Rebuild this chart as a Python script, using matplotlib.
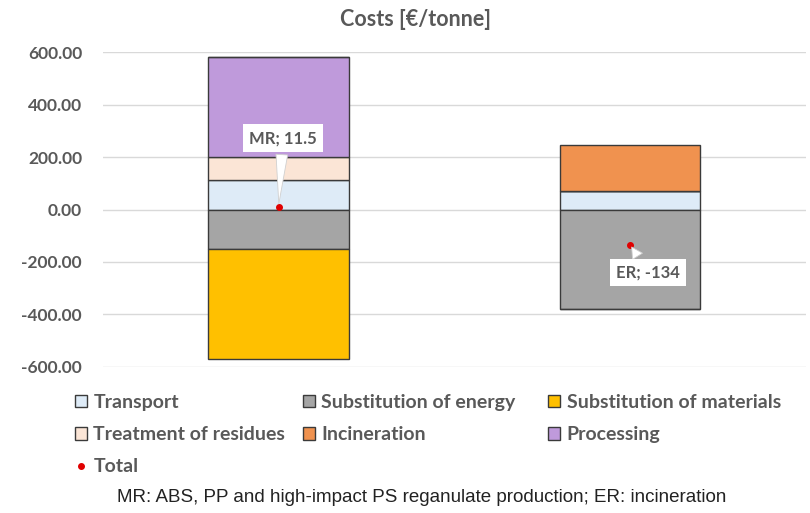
import matplotlib.pyplot as plt
from matplotlib.patches import Patch
from matplotlib.lines import Line2D

# cost components per scenario [€/tonne]
categories = ['MR', 'ER']
transport = [112, 70]
treatment = [87, 0]
processing = [382.5, 0]
incineration = [0, 175]
energy = [-149, -379]
materials = [-421, 0]
totals = [11.5, -134]

yticks = [-600, -400, -200, 0, 200, 400, 600]

colors = {
    'Transport': '#DEEBF7',
    'Substitution of energy': '#A5A5A5',
    'Substitution of materials': '#FFC000',
    'Treatment of residues': '#FBE5D6',
    'Incineration': '#F0924F',
    'Processing': '#BF9ADB',
}

plt.rcParams['font.family'] = ['Lato', 'DejaVu Sans']
grey = '#595959'
edge = '#3a3a3a'

fig = plt.figure(figsize=(8.1, 5.13), dpi=100)
ax = fig.add_axes([0.127, 0.285, 0.868, 0.613])

x = range(len(categories))
w = 0.4

# positive part of the stack
pos = [('Transport', transport), ('Treatment of residues', treatment),
       ('Processing', processing), ('Incineration', incineration)]
base = [0.0] * len(categories)
for name, vals in pos:
    ax.bar(x, vals, w, bottom=base, color=colors[name], edgecolor=edge, linewidth=1, zorder=2)
    base = [b + v for b, v in zip(base, vals)]

# negative part of the stack
neg = [('Substitution of energy', energy), ('Substitution of materials', materials)]
base = [0.0] * len(categories)
for name, vals in neg:
    ax.bar(x, vals, w, bottom=base, color=colors[name], edgecolor=edge, linewidth=1, zorder=2)
    base = [b + v for b, v in zip(base, vals)]

ax.plot(x, totals, 'o', color='#E00000', markersize=4, zorder=4)

# callout labels for the totals
label_pos = [(0.012, 273), (1.05, -240)]
for i, (cat, tot) in enumerate(zip(categories, totals)):
    ax.annotate(f'{cat}; {tot:g}', xy=(i, tot), xytext=label_pos[i], textcoords='data',
                ha='center', va='center', fontsize=12, fontweight='bold', color=grey,
                bbox=dict(boxstyle='square,pad=0.35', fc='white', ec='none'),
                arrowprops=dict(arrowstyle='wedge,tail_width=0.7,shrink_factor=0.5',
                                fc='white', ec='#d0d0d0', lw=0.6),
                zorder=5)

ax.set_xlim(-0.5, 1.5)
ax.set_ylim(-600, 600)
ax.set_yticks(yticks)
ax.set_yticklabels([f'{t:.2f}' for t in yticks])
ax.set_xticks([])
ax.tick_params(axis='y', length=0, pad=15, labelsize=12.5, labelcolor=grey)
for lab in ax.get_yticklabels():
    lab.set_fontweight('bold')
ax.grid(axis='y', color='#D9D9D9', linewidth=1, zorder=0)
ax.set_axisbelow(True)
for s in ax.spines.values():
    s.set_visible(False)

fig.text(0.513, 0.962, 'Costs [€/tonne]', ha='center', va='center',
         fontsize=15.5, fontweight='bold', color=grey)

# legend: three columns, each placed on its own
columns = [['Transport', 'Treatment of residues', None],
           ['Substitution of energy', 'Incineration'],
           ['Substitution of materials', 'Processing']]
col_x = [0.083, 0.3644, 0.667]
for names, cx in zip(columns, col_x):
    handles, labels = [], []
    for name in names:
        if name is None:
            handles.append(Line2D([], [], marker='o', color='#E00000', linestyle='none', markersize=4))
            labels.append('Total')
        else:
            handles.append(Patch(facecolor=colors[name], edgecolor=edge, linewidth=1))
            labels.append(name)
    leg = fig.legend(handles, labels, loc='upper left', bbox_to_anchor=(cx, 0.247),
                     frameon=False, handlelength=0.6, handleheight=0.6, handletextpad=0.35,
                     labelspacing=0.78, borderaxespad=0,
                     prop=dict(size=14, weight='bold'))
    for t in leg.get_texts():
        t.set_color(grey)

fig.text(0.521, 0.031, 'MR: ABS, PP and high-impact PS reganulate production; ER: incineration',
         ha='center', va='center', fontsize=13.5, color='#222222',
         family=['Liberation Sans', 'DejaVu Sans'])

fig.savefig('out.png', dpi=100)
